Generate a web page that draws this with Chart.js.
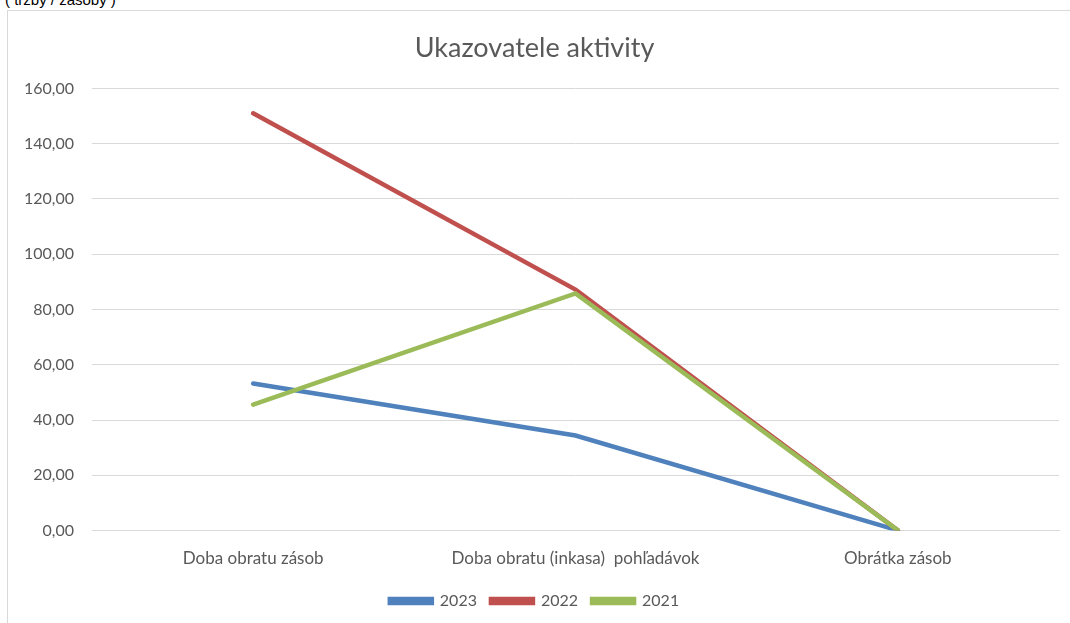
<!DOCTYPE html>
<html lang="sk">
<head>
  <meta charset="UTF-8" />
  <title>Ukazovatele aktivity</title>
  <script src="https://cdn.jsdelivr.net/npm/chart.js"></script>
  <style>
    body { margin: 0; background: #fff; width: 1070px; height: 623px; overflow: hidden; position: relative; }
    #note { position: absolute; left: 5px; top: -9px; font: 15px "Liberation Sans", Arial, sans-serif; color: #000; }
    #frame { position: absolute; left: 7px; top: 10px; width: 1080px; height: 640px; border: 1px solid #d9d9d9; }
    #wrap { position: absolute; left: 0; top: 0; width: 1070px; height: 623px; }
  </style>
</head>
<body>
<div id="note">( tržby / zásoby )</div>
<div id="frame"></div>
<div id="wrap"><canvas id="lineChart"></canvas></div>

<script>
  const categories = ["Doba obratu zásob", "Doba obratu (inkasa)  pohľadávok", "Obrátka zásob"];
  const years = ["2023", "2022", "2021"];
  const values2023 = [53.2, 34.4, 0.1];
  const values2022 = [151.0, 87.2, 0.1];
  const values2021 = [45.6, 85.8, 0.1];
  const yTicks = [0, 20, 40, 60, 80, 100, 120, 140, 160];

  const colors = ["#4f81bd", "#c0504d", "#9bbb59"];
  const font = "Lato, 'Open Sans', sans-serif";
  const grey = "#595959";

  const ctx = document.getElementById('lineChart').getContext('2d');
  new Chart(ctx, {
    type: 'line',
    data: {
      labels: categories,
      datasets: [values2023, values2022, values2021].map((v, i) => ({
        label: years[i],
        data: v,
        borderColor: colors[i],
        backgroundColor: colors[i],
        borderWidth: 4.5,
        pointRadius: 0,
        tension: 0,
        borderCapStyle: 'round',
        order: 3 - i
      }))
    },
    options: {
      responsive: true,
      maintainAspectRatio: false,
      animation: false,
      layout: { padding: { left: 10, right: 11, top: 28, bottom: 4 } },
      plugins: {
        title: {
          display: true,
          text: 'Ukazovatele aktivity',
          color: grey,
          font: { family: font, size: 27, weight: 'normal' },
          padding: { top: 4, bottom: 24 }
        },
        legend: {
          position: 'bottom',
          labels: {
            sort: (a, b) => a.datasetIndex - b.datasetIndex,
            color: grey,
            font: { family: font, size: 16 },
            boxWidth: 42,
            boxHeight: 4,
            padding: 14
          }
        },
        tooltip: { enabled: false }
      },
      scales: {
        x: {
          offset: true,
          grid: { display: false, offset: true },
          border: { color: '#d9d9d9' },
          ticks: { color: grey, font: { family: font, size: 17 }, padding: 10, maxRotation: 0 }
        },
        y: {
          min: 0,
          max: 160,
          afterBuildTicks: axis => { axis.ticks = yTicks.map(v => ({ value: v })); },
          afterFit: axis => { axis.width = 82; },
          grid: { color: '#d9d9d9', drawTicks: true, tickLength: 10, tickColor: '#ffffff' },
          border: { display: false },
          ticks: {
            color: grey,
            font: { family: font, size: 16 },
            padding: 8,
            callback: v => v.toFixed(2).replace('.', ',')
          }
        }
      }
    }
  });
</script>
</body>
</html>
